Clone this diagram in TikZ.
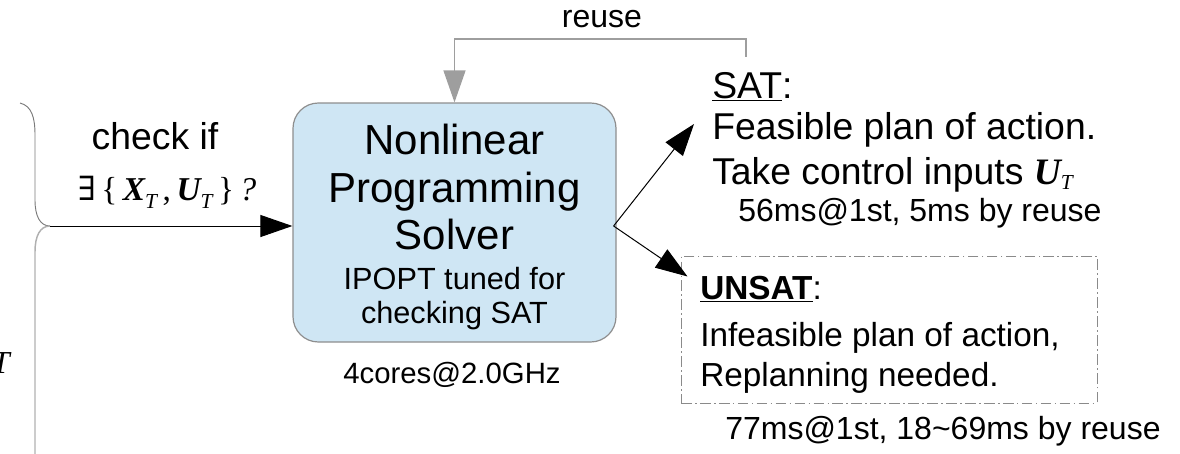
\documentclass[tikz,border=0pt]{standalone}
\usepackage{fontspec}
\setmainfont{Liberation Sans}
\newfontfamily\serifface{Liberation Serif}
\newfontfamily\symserif{DejaVu Serif}
\usetikzlibrary{arrows.meta,calc}

% bold italic vector symbol and its lowered subscript T (optional drop)
\newcommand\vecsym[1]{{\serifface\bfseries\itshape #1}}
\newcommand\lowT[1][0.25em]{\smash{\raisebox{-#1}{\fontsize{16}{16}\selectfont\serifface\itshape T}}}

\definecolor{solverfill}{HTML}{CFE6F4}
\definecolor{solverline}{HTML}{8E8E8E}
\definecolor{reusegray}{HTML}{9E9E9E}
\definecolor{boxgray}{HTML}{8A8A8A}
\definecolor{bracedark}{HTML}{7A7A7A}
\definecolor{bracelight}{HTML}{B0B0B0}

\begin{document}
\begin{tikzpicture}[x=0.75pt,y=-0.75pt,
  solver/.style={draw=solverline, line width=0.9pt, fill=solverfill,
    rounded corners=19pt, minimum width=242.25pt, minimum height=179.25pt, inner sep=0pt},
  unsatbox/.style={draw=boxgray, line width=0.75pt,
    dash pattern=on 8pt off 2.5pt on 1.2pt off 2.5pt,
    minimum width=312pt, minimum height=110.25pt, inner sep=0pt},
  flow/.style={line width=0.75pt, -{Triangle[length=24pt,width=16.5pt]}},
  reuseflow/.style={draw=reusegray, line width=1pt,
    -{Triangle[length=24pt,width=16.5pt,fill=reusegray]}},
  txt/.style={inner sep=0pt},
  bracetopline/.style={draw=bracedark, line width=0.7pt},
  bracebotline/.style={draw=bracelight, line width=1.1pt}
]
\useasboundingbox (0,0) rectangle (1180,453);
\clip (0,0) rectangle (1180,453);

% left brace collecting the inputs
\coordinate (bracetip) at (50,226);
\draw[bracetopline] (20,103) .. controls (32,106) and (35,118) .. (35,135)
  -- (35,200) .. controls (35,216) and (40,226) .. (bracetip);
\draw[bracebotline] (bracetip) .. controls (40,226) and (35,236) .. (35,252) -- (35,460);
\node[txt, anchor=base east, font=\fontsize{24}{28}\selectfont\serifface\itshape] (tfrag) at (10,373) {T};

% solver block
\node[solver] (nlp) at (454.5,222.5) {};
\node[txt, align=center, anchor=north, font=\fontsize{31.5}{35.6}\selectfont] (nlptxt) at (454.5,124)
  {Nonlinear\\Programming\\Solver\\[-6pt]{\fontsize{23}{25.5}\selectfont IPOPT tuned for}\\[-10pt]{\fontsize{23}{25.5}\selectfont checking SAT}};
\node[txt, anchor=base, font=\fontsize{22}{26}\selectfont] (cores) at (452,383) {4cores@2.0GHz};

% query
\node[txt, anchor=base, font=\fontsize{28}{32}\selectfont] (checkif) at (155,149) {check if};
\node[txt, anchor=base, font=\fontsize{25}{30}\selectfont\serifface] (query) at (167,200)
  {{\symserif ∃}\,\{\,\vecsym{X}\lowT\,,\,\vecsym{U}\lowT\,\}\,{\itshape ?}};
\draw[flow] (bracetip) -- (bracetip -| nlp.west);

% SAT outcome
\node[txt, anchor=north west, align=left, font=\fontsize{28}{30.5}\selectfont] (sat) at (712,72)
  {\underline{SAT}:\\Feasible plan of action.\\[3.5pt]Take control inputs \vecsym{U}\lowT[0.13em]};
\node[txt, anchor=base west, font=\fontsize{24}{28}\selectfont] (sattime) at (738,221) {56ms@1st, 5ms by reuse};

% UNSAT outcome
\node[unsatbox] (unsat) at (889,329.5) {};
\node[txt, anchor=north west, align=left, font=\fontsize{25}{30}\selectfont] (unsattxt) at (700,276)
  {\underline{\textbf{UNSAT}}:\\[5.25pt]Infeasible plan of action,\\Replanning needed.};
\node[txt, anchor=base west, font=\fontsize{24}{28}\selectfont] (unsattime) at (725,439) {77ms@1st, 18\char"7E 69ms by reuse};

% outcome arrows
\coordinate (fork) at ($(nlp.east)+(-3,3.5)$);
\draw[flow] (fork) -- ($(sat.north west)+(-18,52)$);
\draw[flow] (fork) -- ($(unsat.north west)+(7,21)$);

% reuse feedback
\coordinate (reusefrom) at ($(sat.north west)+(34,-15)$);
\draw[reuseflow] (reusefrom) -- ++(0,-18) -| (nlp.north);
\node[txt, anchor=base, font=\fontsize{24}{28}\selectfont] (reuselbl) at (602,28) {reuse};
\end{tikzpicture}
\end{document}
